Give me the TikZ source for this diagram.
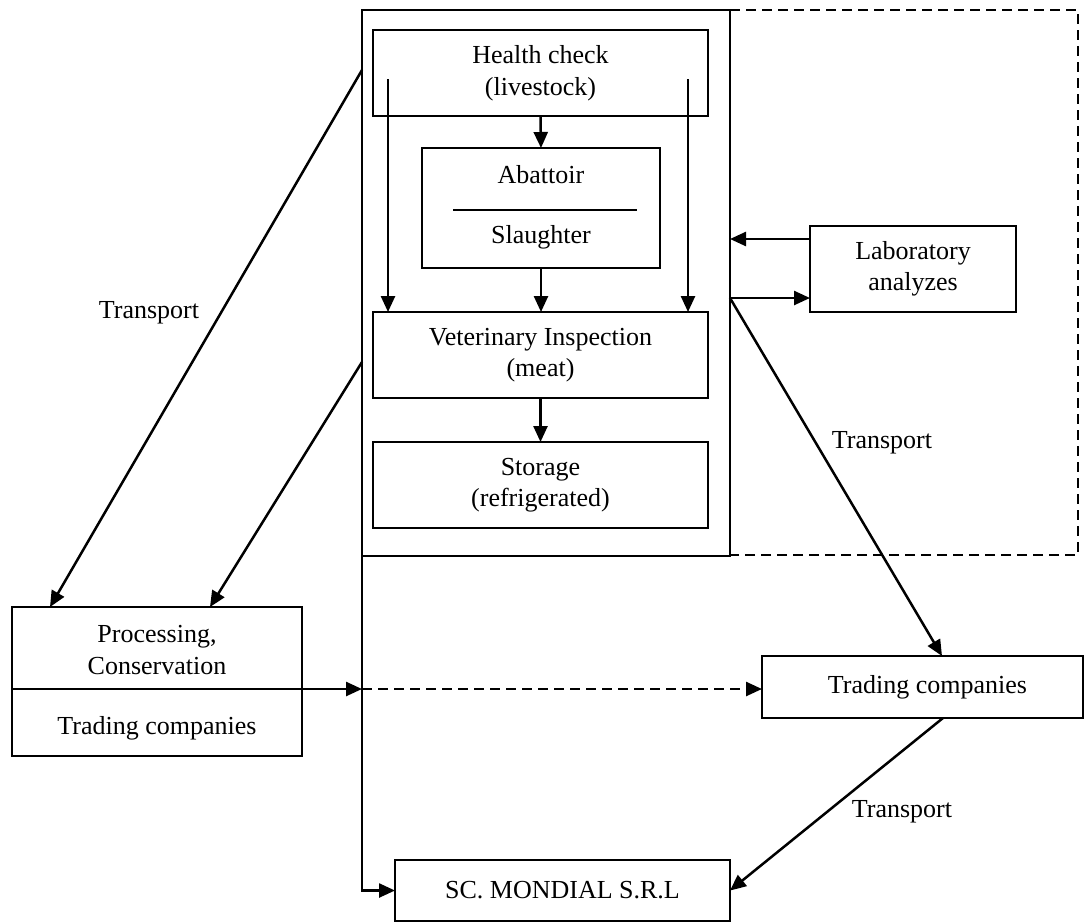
\documentclass[tikz,border=0pt]{standalone}
\usepackage{fontspec}
\setmainfont{Liberation Serif}
\usetikzlibrary{arrows.meta,calc}
\tikzset{
  box/.style={draw, line width=2.5pt, inner sep=0pt, outer sep=0pt, align=center, font=\fontsize{26}{31.5}\selectfont},
  lbl/.style={inner sep=0pt, align=center, font=\fontsize{26}{31.5}\selectfont},
  arr/.style={line width=2.5pt, -{Triangle[length=16pt,width=14pt]}},
  ln/.style={line width=2.5pt},
  dsh/.style={line width=2.5pt, dash pattern=on 10pt off 6pt}
}
\begin{document}
\begin{tikzpicture}[x=1pt,y=-1pt]
\useasboundingbox (0,0) rectangle (1085,922);
% outer box
\node[box, minimum width=368pt, minimum height=546pt] (outer) at (546,283) {};
\draw[dsh] (outer.north east) -- (1078,10) -- (1078,555) -- (outer.south east |- 0,555);
% inner boxes
\node[box, minimum width=335pt, minimum height=86pt] (hc) at (540.5,73) {Health check\\(livestock)};
\node[box, minimum width=238pt, minimum height=120pt] (ab) at (541,208) {};
\node[lbl] (abt) at (541,175) {Abattoir};
\node[lbl] (abs) at (541,237) {Slaughter};
\draw[ln] (453,210) -- (637,210);
\node[box, minimum width=335pt, minimum height=86pt] (vet) at (540.5,355) {Veterinary Inspection\\(meat)};
\node[box, minimum width=335pt, minimum height=86pt] (st) at (540.5,485) {Storage\\(refrigerated)};
\node[box, minimum width=206pt, minimum height=86pt] (lab) at (913,269) {Laboratory\\analyzes};
\node[box, minimum width=290pt, minimum height=149pt] (proc) at (157,681.5) {};
\node[lbl] (proct) at (157,650) {Processing,\\Conservation};
\node[lbl] (procb) at (157,728) {Trading companies};
\draw[ln] (proc.west |- 0,689) -- (proc.east |- 0,689);
\node[box, minimum width=321pt, minimum height=62pt] (tr) at (922.5,687) {\hspace*{10pt}Trading companies};
\node[box, minimum width=335pt, minimum height=61pt] (sc) at (562.5,890.5) {SC. MONDIAL S.R.L};
% inner arrows
\draw[arr] (hc.south) -- (ab.north);
\draw[arr] (ab.south) -- (ab.south |- vet.north);
\draw[arr] (vet.south) -- (st.north);
\coordinate (hl) at (388,79);
\coordinate (hr) at (688,79);
\draw[arr] (hl) -- (hl |- vet.north);
\draw[arr] (hr) -- (hr |- vet.north);
% laboratory
\draw[arr] ([yshift=30pt]lab.west) -- ([yshift=30pt]lab.west -| outer.east);
\coordinate (tp) at ([yshift=-29pt]lab.west -| outer.east);
\draw[arr] (tp) -- (tp -| lab.west);
\draw[arr] (tp) -- ([xshift=19.5pt]tr.north);
\draw[arr] ([xshift=20.5pt]tr.south) -- (sc.east);
% left transport
\coordinate (t1) at (362,70);
\coordinate (t2) at (362,362);
\draw[arr] (t1) -- ([xshift=-107pt]proc.north);
\draw[arr] (t2) -- ([xshift=53pt]proc.north);
% processing to trading
\coordinate (pm) at (362,689);
\draw[arr] (proc.east |- pm) -- (pm);
\draw[arr, dash pattern=on 10pt off 6pt] (pm) -- (pm -| tr.west);
% left line to SC
\draw[arr] (outer.south west) |- (sc.west);
% labels
\node[lbl] (l1) at (149,313) {Transport};
\node[lbl] (l2) at (882,443) {Transport};
\node[lbl] (l3) at (902,812) {Transport};
\end{tikzpicture}
\end{document}
